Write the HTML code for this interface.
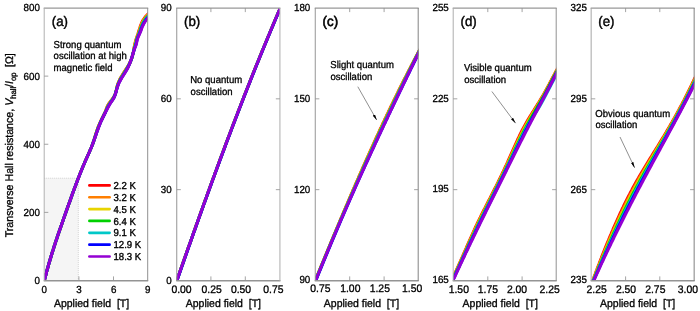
<!DOCTYPE html>
<html lang="en">
<head>
<meta charset="utf-8">
<title>Transverse Hall resistance vs applied field</title>
<style>
html,body{margin:0;padding:0;background:#fff;}
body{width:700px;height:311px;overflow:hidden;}
svg{display:block;}
</style>
</head>
<body>
<svg width="700" height="311" viewBox="0 0 700 311" font-family='"Liberation Sans", Arial, Helvetica, sans-serif' fill="#000" text-rendering="geometricPrecision">
<rect width="700" height="311" fill="#fff"/>
<defs>
<clipPath id="cpa"><rect x="44.2" y="8.0" width="103.50" height="272.5"/></clipPath>
<clipPath id="cpb"><rect x="176.75" y="8.0" width="103.18" height="272.5"/></clipPath>
<clipPath id="cpc"><rect x="315.25" y="8.0" width="102.95" height="272.5"/></clipPath>
<clipPath id="cpd"><rect x="453.2" y="8.0" width="103.00" height="272.5"/></clipPath>
<clipPath id="cpe"><rect x="591.15" y="8.0" width="103.00" height="272.5"/></clipPath>
<marker id="ah" viewBox="0 0 6 2.8" refX="5.8" refY="1.4" markerWidth="6" markerHeight="2.8" markerUnits="userSpaceOnUse" orient="auto"><path d="M0,0.1 L6,1.4 L0,2.7 Z" fill="#000" stroke="none"/></marker>
</defs>
<rect x="44.2" y="178" width="34.20" height="102.5" fill="#f5f5f5"/>
<path d="M44.2,178.2 H78.3 V280.5" fill="none" stroke="#cacaca" stroke-width="0.8" stroke-dasharray="1,1"/>
<g clip-path="url(#cpa)" fill="none" stroke-width="3.0" stroke-linejoin="round" stroke-linecap="round">
<path d="M155.4,4 L154.6,6 L153.4,8 L151.8,10 L149.9,12 L148.0,14 L146.1,16 L144.5,18 L143.1,20 L142.0,22 L141.2,24 L140.4,26 L139.8,28 L139.1,30 L138.5,32 L137.9,34 L137.2,36 L136.5,38 L135.9,40 L135.3,42 L134.8,44 L134.4,46 L134.0,48 L133.7,50 L133.3,52 L132.9,54 L132.4,56 L131.9,58 L131.1,60 L130.2,62 L129.2,64 L128.0,66 L126.7,68 L125.4,70 L124.1,72 L122.9,74 L121.7,76 L120.5,78 L119.5,80 L118.6,82 L117.8,84 L117.2,86 L116.7,88 L116.3,90 L115.8,92 L115.2,94 L114.3,96 L113.1,98 L111.6,100 L110.1,102 L108.6,104 L107.4,106 L106.6,108 L105.9,110 L105.1,112 L104.2,114 L103.3,116 L102.3,118 L101.3,120 L100.3,122 L99.4,124 L98.5,126 L97.8,128 L97.1,130 L96.5,132 L95.8,134 L95.2,136 L94.6,138 L94.0,140 L93.3,142 L92.6,144 L91.9,146 L91.1,148 L90.2,150 L89.3,152 L88.4,154 L87.5,156 L86.6,158 L85.7,160 L84.9,162 L84.0,164 L83.2,166 L82.3,168 L81.5,170 L80.7,172 L79.9,174 L79.2,176 L78.4,178 L77.6,180 L76.9,182 L76.1,184 L75.4,186 L74.6,188 L73.9,190 L73.1,192 L72.4,194 L71.7,196 L71.0,198 L70.3,200 L69.6,202 L68.8,204 L68.1,206 L67.4,208 L66.7,210 L66.0,212 L65.3,214 L64.6,216 L63.9,218 L63.2,220 L62.5,222 L61.8,224 L61.1,226 L60.4,228 L59.7,230 L59.0,232 L58.3,234 L57.6,236 L57.0,238 L56.3,240 L55.6,242 L55.0,244 L54.3,246 L53.7,248 L53.1,250 L52.4,252 L51.8,254 L51.2,256 L50.6,258 L50.0,260 L49.4,262 L48.8,264 L48.3,266 L47.7,268 L47.1,270 L46.6,272 L46.1,274 L45.5,276 L45.0,278 L44.5,280 L44.0,282 L43.6,284 L43.1,286" stroke="#ff0000"/>
<path d="M156.7,4 L155.6,6 L154.2,8 L152.4,10 L150.6,12 L148.6,14 L146.7,16 L145.0,18 L143.6,20 L142.5,22 L141.6,24 L140.8,26 L140.1,28 L139.5,30 L138.9,32 L138.2,34 L137.4,36 L136.7,38 L136.1,40 L135.5,42 L135.0,44 L134.6,46 L134.2,48 L133.8,50 L133.4,52 L132.9,54 L132.4,56 L131.8,58 L131.1,60 L130.2,62 L129.2,64 L128.1,66 L126.9,68 L125.6,70 L124.3,72 L123.1,74 L121.9,76 L120.7,78 L119.7,80 L118.7,82 L117.9,84 L117.3,86 L116.8,88 L116.3,90 L115.8,92 L115.2,94 L114.4,96 L113.2,98 L111.8,100 L110.3,102 L108.8,104 L107.6,106 L106.8,108 L106.0,110 L105.2,112 L104.3,114 L103.3,116 L102.3,118 L101.3,120 L100.4,122 L99.5,124 L98.6,126 L97.9,128 L97.2,130 L96.5,132 L95.9,134 L95.3,136 L94.7,138 L94.0,140 L93.4,142 L92.7,144 L91.9,146 L91.1,148 L90.2,150 L89.4,152 L88.4,154 L87.5,156 L86.6,158 L85.7,160 L84.9,162 L84.0,164 L83.2,166 L82.4,168 L81.5,170 L80.7,172 L79.9,174 L79.2,176 L78.4,178 L77.6,180 L76.9,182 L76.1,184 L75.4,186 L74.6,188 L73.9,190 L73.1,192 L72.4,194 L71.7,196 L71.0,198 L70.3,200 L69.6,202 L68.8,204 L68.1,206 L67.4,208 L66.7,210 L66.0,212 L65.3,214 L64.6,216 L63.9,218 L63.2,220 L62.5,222 L61.8,224 L61.1,226 L60.4,228 L59.7,230 L59.0,232 L58.3,234 L57.6,236 L57.0,238 L56.3,240 L55.6,242 L55.0,244 L54.3,246 L53.7,248 L53.1,250 L52.4,252 L51.8,254 L51.2,256 L50.6,258 L50.0,260 L49.4,262 L48.8,264 L48.3,266 L47.7,268 L47.1,270 L46.6,272 L46.1,274 L45.5,276 L45.0,278 L44.5,280 L44.0,282 L43.6,284 L43.1,286" stroke="#ff7f00"/>
<path d="M157.9,4 L156.6,6 L155.0,8 L153.1,10 L151.2,12 L149.2,14 L147.3,16 L145.6,18 L144.2,20 L143.0,22 L142.0,24 L141.2,26 L140.5,28 L139.8,30 L139.2,32 L138.4,34 L137.7,36 L136.9,38 L136.3,40 L135.8,42 L135.3,44 L134.8,46 L134.3,48 L133.8,50 L133.4,52 L132.9,54 L132.4,56 L131.8,58 L131.1,60 L130.3,62 L129.3,64 L128.2,66 L127.1,68 L125.8,70 L124.6,72 L123.3,74 L122.1,76 L120.9,78 L119.9,80 L118.9,82 L118.1,84 L117.4,86 L116.8,88 L116.4,90 L115.9,92 L115.3,94 L114.4,96 L113.3,98 L112.0,100 L110.5,102 L109.1,104 L107.9,106 L106.9,108 L106.1,110 L105.3,112 L104.4,114 L103.4,116 L102.4,118 L101.4,120 L100.5,122 L99.6,124 L98.8,126 L98.0,128 L97.3,130 L96.6,132 L96.0,134 L95.3,136 L94.7,138 L94.1,140 L93.4,142 L92.7,144 L91.9,146 L91.1,148 L90.2,150 L89.4,152 L88.5,154 L87.6,156 L86.7,158 L85.8,160 L84.9,162 L84.0,164 L83.2,166 L82.4,168 L81.5,170 L80.7,172 L79.9,174 L79.2,176 L78.4,178 L77.6,180 L76.9,182 L76.1,184 L75.4,186 L74.6,188 L73.9,190 L73.1,192 L72.4,194 L71.7,196 L71.0,198 L70.3,200 L69.6,202 L68.8,204 L68.1,206 L67.4,208 L66.7,210 L66.0,212 L65.3,214 L64.6,216 L63.9,218 L63.2,220 L62.5,222 L61.8,224 L61.1,226 L60.4,228 L59.7,230 L59.0,232 L58.3,234 L57.6,236 L57.0,238 L56.3,240 L55.6,242 L55.0,244 L54.3,246 L53.7,248 L53.1,250 L52.4,252 L51.8,254 L51.2,256 L50.6,258 L50.0,260 L49.4,262 L48.8,264 L48.3,266 L47.7,268 L47.1,270 L46.6,272 L46.1,274 L45.5,276 L45.0,278 L44.5,280 L44.0,282 L43.6,284 L43.1,286" stroke="#e8d400"/>
<path d="M159.2,4 L157.6,6 L155.8,8 L153.8,10 L151.8,12 L149.8,14 L147.9,16 L146.2,18 L144.7,20 L143.5,22 L142.4,24 L141.6,26 L140.8,28 L140.2,30 L139.5,32 L138.7,34 L137.9,36 L137.1,38 L136.5,40 L136.1,42 L135.6,44 L135.0,46 L134.5,48 L133.9,50 L133.4,52 L132.9,54 L132.4,56 L131.8,58 L131.1,60 L130.3,62 L129.4,64 L128.3,66 L127.2,68 L126.0,70 L124.8,72 L123.6,74 L122.3,76 L121.1,78 L120.0,80 L119.0,82 L118.2,84 L117.5,86 L116.9,88 L116.4,90 L115.9,92 L115.3,94 L114.5,96 L113.5,98 L112.2,100 L110.7,102 L109.3,104 L108.1,106 L107.1,108 L106.3,110 L105.4,112 L104.4,114 L103.4,116 L102.5,118 L101.5,120 L100.6,122 L99.7,124 L98.9,126 L98.1,128 L97.4,130 L96.7,132 L96.0,134 L95.4,136 L94.7,138 L94.1,140 L93.4,142 L92.7,144 L91.9,146 L91.1,148 L90.2,150 L89.4,152 L88.5,154 L87.6,156 L86.7,158 L85.8,160 L84.9,162 L84.1,164 L83.2,166 L82.4,168 L81.6,170 L80.7,172 L79.9,174 L79.2,176 L78.4,178 L77.6,180 L76.9,182 L76.1,184 L75.4,186 L74.6,188 L73.9,190 L73.1,192 L72.4,194 L71.7,196 L71.0,198 L70.3,200 L69.6,202 L68.8,204 L68.1,206 L67.4,208 L66.7,210 L66.0,212 L65.3,214 L64.6,216 L63.9,218 L63.2,220 L62.5,222 L61.8,224 L61.1,226 L60.4,228 L59.7,230 L59.0,232 L58.3,234 L57.6,236 L57.0,238 L56.3,240 L55.6,242 L55.0,244 L54.3,246 L53.7,248 L53.1,250 L52.4,252 L51.8,254 L51.2,256 L50.6,258 L50.0,260 L49.4,262 L48.8,264 L48.3,266 L47.7,268 L47.1,270 L46.6,272 L46.1,274 L45.5,276 L45.0,278 L44.5,280 L44.0,282 L43.6,284 L43.1,286" stroke="#00d000"/>
<path d="M160.5,4 L158.6,6 L156.6,8 L154.5,10 L152.4,12 L150.4,14 L148.5,16 L146.7,18 L145.2,20 L143.9,22 L142.8,24 L141.9,26 L141.2,28 L140.5,30 L139.8,32 L139.0,34 L138.2,36 L137.4,38 L136.7,40 L136.3,42 L135.9,44 L135.3,46 L134.6,48 L134.0,50 L133.4,52 L132.9,54 L132.4,56 L131.8,58 L131.1,60 L130.3,62 L129.4,64 L128.5,66 L127.4,68 L126.3,70 L125.0,72 L123.8,74 L122.5,76 L121.3,78 L120.2,80 L119.2,82 L118.3,84 L117.6,86 L117.0,88 L116.5,90 L115.9,92 L115.3,94 L114.6,96 L113.6,98 L112.4,100 L110.9,102 L109.5,104 L108.3,106 L107.3,108 L106.4,110 L105.5,112 L104.5,114 L103.5,116 L102.5,118 L101.6,120 L100.6,122 L99.8,124 L99.0,126 L98.2,128 L97.5,130 L96.8,132 L96.1,134 L95.4,136 L94.8,138 L94.1,140 L93.4,142 L92.7,144 L91.9,146 L91.1,148 L90.2,150 L89.4,152 L88.5,154 L87.6,156 L86.7,158 L85.8,160 L84.9,162 L84.1,164 L83.2,166 L82.4,168 L81.6,170 L80.8,172 L80.0,174 L79.2,176 L78.4,178 L77.6,180 L76.9,182 L76.1,184 L75.4,186 L74.6,188 L73.9,190 L73.1,192 L72.4,194 L71.7,196 L71.0,198 L70.3,200 L69.6,202 L68.8,204 L68.1,206 L67.4,208 L66.7,210 L66.0,212 L65.3,214 L64.6,216 L63.9,218 L63.2,220 L62.5,222 L61.8,224 L61.1,226 L60.4,228 L59.7,230 L59.0,232 L58.3,234 L57.6,236 L57.0,238 L56.3,240 L55.6,242 L55.0,244 L54.3,246 L53.7,248 L53.1,250 L52.4,252 L51.8,254 L51.2,256 L50.6,258 L50.0,260 L49.4,262 L48.8,264 L48.3,266 L47.7,268 L47.1,270 L46.6,272 L46.1,274 L45.5,276 L45.0,278 L44.5,280 L44.0,282 L43.6,284 L43.1,286" stroke="#00c8c8"/>
<path d="M161.8,4 L159.6,6 L157.4,8 L155.2,10 L153.0,12 L151.0,14 L149.1,16 L147.3,18 L145.8,20 L144.4,22 L143.3,24 L142.3,26 L141.5,28 L140.9,30 L140.1,32 L139.3,34 L138.4,36 L137.6,38 L137.0,40 L136.6,42 L136.1,44 L135.5,46 L134.7,48 L134.1,50 L133.5,52 L132.9,54 L132.4,56 L131.7,58 L131.1,60 L130.3,62 L129.5,64 L128.6,66 L127.6,68 L126.5,70 L125.3,72 L124.0,74 L122.8,76 L121.5,78 L120.4,80 L119.3,82 L118.4,84 L117.7,86 L117.1,88 L116.5,90 L116.0,92 L115.4,94 L114.7,96 L113.7,98 L112.5,100 L111.1,102 L109.8,104 L108.6,106 L107.5,108 L106.5,110 L105.6,112 L104.6,114 L103.6,116 L102.6,118 L101.6,120 L100.7,122 L99.9,124 L99.1,126 L98.3,128 L97.6,130 L96.9,132 L96.2,134 L95.5,136 L94.8,138 L94.1,140 L93.4,142 L92.7,144 L91.9,146 L91.1,148 L90.2,150 L89.4,152 L88.5,154 L87.6,156 L86.7,158 L85.8,160 L84.9,162 L84.1,164 L83.2,166 L82.4,168 L81.6,170 L80.8,172 L80.0,174 L79.2,176 L78.4,178 L77.6,180 L76.9,182 L76.1,184 L75.4,186 L74.6,188 L73.9,190 L73.1,192 L72.4,194 L71.7,196 L71.0,198 L70.3,200 L69.6,202 L68.8,204 L68.1,206 L67.4,208 L66.7,210 L66.0,212 L65.3,214 L64.6,216 L63.9,218 L63.2,220 L62.5,222 L61.8,224 L61.1,226 L60.4,228 L59.7,230 L59.0,232 L58.3,234 L57.6,236 L57.0,238 L56.3,240 L55.6,242 L55.0,244 L54.3,246 L53.7,248 L53.1,250 L52.4,252 L51.8,254 L51.2,256 L50.6,258 L50.0,260 L49.4,262 L48.8,264 L48.3,266 L47.7,268 L47.1,270 L46.6,272 L46.1,274 L45.5,276 L45.0,278 L44.5,280 L44.0,282 L43.6,284 L43.1,286" stroke="#0000ff"/>
<path d="M163.1,4 L160.6,6 L158.2,8 L155.9,10 L153.6,12 L151.6,14 L149.6,16 L147.9,18 L146.3,20 L144.9,22 L143.7,24 L142.7,26 L141.9,28 L141.2,30 L140.5,32 L139.6,34 L138.6,36 L137.8,38 L137.2,40 L136.8,42 L136.4,44 L135.7,46 L134.9,48 L134.1,50 L133.5,52 L132.9,54 L132.3,56 L131.7,58 L131.0,60 L130.3,62 L129.6,64 L128.7,66 L127.8,68 L126.7,70 L125.5,72 L124.3,74 L123.0,76 L121.7,78 L120.6,80 L119.5,82 L118.5,84 L117.8,86 L117.1,88 L116.6,90 L116.0,92 L115.4,94 L114.7,96 L113.9,98 L112.7,100 L111.3,102 L110.0,104 L108.8,106 L107.7,108 L106.7,110 L105.6,112 L104.6,114 L103.6,116 L102.7,118 L101.7,120 L100.8,122 L100.0,124 L99.2,126 L98.4,128 L97.7,130 L96.9,132 L96.2,134 L95.6,136 L94.9,138 L94.2,140 L93.4,142 L92.7,144 L91.9,146 L91.1,148 L90.2,150 L89.4,152 L88.5,154 L87.6,156 L86.7,158 L85.8,160 L85.0,162 L84.1,164 L83.2,166 L82.4,168 L81.6,170 L80.8,172 L80.0,174 L79.2,176 L78.4,178 L77.6,180 L76.9,182 L76.1,184 L75.4,186 L74.6,188 L73.9,190 L73.1,192 L72.4,194 L71.7,196 L71.0,198 L70.3,200 L69.6,202 L68.8,204 L68.1,206 L67.4,208 L66.7,210 L66.0,212 L65.3,214 L64.6,216 L63.9,218 L63.2,220 L62.5,222 L61.8,224 L61.1,226 L60.4,228 L59.7,230 L59.0,232 L58.3,234 L57.6,236 L57.0,238 L56.3,240 L55.6,242 L55.0,244 L54.3,246 L53.7,248 L53.1,250 L52.4,252 L51.8,254 L51.2,256 L50.6,258 L50.0,260 L49.4,262 L48.8,264 L48.3,266 L47.7,268 L47.1,270 L46.6,272 L46.1,274 L45.5,276 L45.0,278 L44.5,280 L44.0,282 L43.6,284 L43.1,286" stroke="#9400d3"/>
</g>
<g clip-path="url(#cpb)" fill="none" stroke-width="3.0" stroke-linejoin="round" stroke-linecap="round">
<path d="M282.0,4 L281.1,6 L280.3,8 L279.4,10 L278.5,12 L277.7,14 L276.8,16 L276.0,18 L275.1,20 L274.3,22 L273.4,24 L272.6,26 L271.8,28 L270.9,30 L270.1,32 L269.3,34 L268.4,36 L267.6,38 L266.8,40 L265.9,42 L265.1,44 L264.3,46 L263.5,48 L262.6,50 L261.8,52 L261.0,54 L260.2,56 L259.4,58 L258.6,60 L257.8,62 L256.9,64 L256.1,66 L255.3,68 L254.5,70 L253.7,72 L252.9,74 L252.1,76 L251.3,78 L250.5,80 L249.8,82 L249.0,84 L248.2,86 L247.4,88 L246.6,90 L245.8,92 L245.0,94 L244.2,96 L243.5,98 L242.7,100 L241.9,102 L241.1,104 L240.4,106 L239.6,108 L238.8,110 L238.0,112 L237.3,114 L236.5,116 L235.7,118 L235.0,120 L234.2,122 L233.4,124 L232.7,126 L231.9,128 L231.2,130 L230.4,132 L229.7,134 L228.9,136 L228.1,138 L227.4,140 L226.6,142 L225.9,144 L225.1,146 L224.4,148 L223.7,150 L222.9,152 L222.2,154 L221.4,156 L220.7,158 L219.9,160 L219.2,162 L218.5,164 L217.7,166 L217.0,168 L216.3,170 L215.5,172 L214.8,174 L214.1,176 L213.3,178 L212.6,180 L211.9,182 L211.1,184 L210.4,186 L209.7,188 L209.0,190 L208.2,192 L207.5,194 L206.8,196 L206.1,198 L205.3,200 L204.6,202 L203.9,204 L203.2,206 L202.5,208 L201.7,210 L201.0,212 L200.3,214 L199.6,216 L198.9,218 L198.2,220 L197.5,222 L196.7,224 L196.0,226 L195.3,228 L194.6,230 L193.9,232 L193.2,234 L192.5,236 L191.8,238 L191.1,240 L190.4,242 L189.7,244 L188.9,246 L188.2,248 L187.5,250 L186.8,252 L186.1,254 L185.4,256 L184.7,258 L184.0,260 L183.3,262 L182.6,264 L181.9,266 L181.2,268 L180.5,270 L179.8,272 L179.1,274 L178.4,276 L177.7,278 L177.0,280 L176.3,282 L175.6,284 L174.9,286" stroke="#ff0000"/>
<path d="M282.0,4 L281.1,6 L280.3,8 L279.4,10 L278.5,12 L277.7,14 L276.8,16 L276.0,18 L275.1,20 L274.3,22 L273.4,24 L272.6,26 L271.8,28 L270.9,30 L270.1,32 L269.3,34 L268.4,36 L267.6,38 L266.8,40 L265.9,42 L265.1,44 L264.3,46 L263.5,48 L262.6,50 L261.8,52 L261.0,54 L260.2,56 L259.4,58 L258.6,60 L257.8,62 L256.9,64 L256.1,66 L255.3,68 L254.5,70 L253.7,72 L252.9,74 L252.1,76 L251.3,78 L250.5,80 L249.8,82 L249.0,84 L248.2,86 L247.4,88 L246.6,90 L245.8,92 L245.0,94 L244.2,96 L243.5,98 L242.7,100 L241.9,102 L241.1,104 L240.4,106 L239.6,108 L238.8,110 L238.0,112 L237.3,114 L236.5,116 L235.7,118 L235.0,120 L234.2,122 L233.4,124 L232.7,126 L231.9,128 L231.2,130 L230.4,132 L229.7,134 L228.9,136 L228.1,138 L227.4,140 L226.6,142 L225.9,144 L225.1,146 L224.4,148 L223.7,150 L222.9,152 L222.2,154 L221.4,156 L220.7,158 L219.9,160 L219.2,162 L218.5,164 L217.7,166 L217.0,168 L216.3,170 L215.5,172 L214.8,174 L214.1,176 L213.3,178 L212.6,180 L211.9,182 L211.1,184 L210.4,186 L209.7,188 L209.0,190 L208.2,192 L207.5,194 L206.8,196 L206.1,198 L205.3,200 L204.6,202 L203.9,204 L203.2,206 L202.5,208 L201.7,210 L201.0,212 L200.3,214 L199.6,216 L198.9,218 L198.2,220 L197.5,222 L196.7,224 L196.0,226 L195.3,228 L194.6,230 L193.9,232 L193.2,234 L192.5,236 L191.8,238 L191.1,240 L190.4,242 L189.7,244 L188.9,246 L188.2,248 L187.5,250 L186.8,252 L186.1,254 L185.4,256 L184.7,258 L184.0,260 L183.3,262 L182.6,264 L181.9,266 L181.2,268 L180.5,270 L179.8,272 L179.1,274 L178.4,276 L177.7,278 L177.0,280 L176.3,282 L175.6,284 L174.9,286" stroke="#ff7f00"/>
<path d="M282.0,4 L281.1,6 L280.3,8 L279.4,10 L278.5,12 L277.7,14 L276.8,16 L276.0,18 L275.1,20 L274.3,22 L273.4,24 L272.6,26 L271.8,28 L270.9,30 L270.1,32 L269.3,34 L268.4,36 L267.6,38 L266.8,40 L265.9,42 L265.1,44 L264.3,46 L263.5,48 L262.6,50 L261.8,52 L261.0,54 L260.2,56 L259.4,58 L258.6,60 L257.8,62 L256.9,64 L256.1,66 L255.3,68 L254.5,70 L253.7,72 L252.9,74 L252.1,76 L251.3,78 L250.5,80 L249.8,82 L249.0,84 L248.2,86 L247.4,88 L246.6,90 L245.8,92 L245.0,94 L244.2,96 L243.5,98 L242.7,100 L241.9,102 L241.1,104 L240.4,106 L239.6,108 L238.8,110 L238.0,112 L237.3,114 L236.5,116 L235.7,118 L235.0,120 L234.2,122 L233.4,124 L232.7,126 L231.9,128 L231.2,130 L230.4,132 L229.7,134 L228.9,136 L228.1,138 L227.4,140 L226.6,142 L225.9,144 L225.1,146 L224.4,148 L223.7,150 L222.9,152 L222.2,154 L221.4,156 L220.7,158 L219.9,160 L219.2,162 L218.5,164 L217.7,166 L217.0,168 L216.3,170 L215.5,172 L214.8,174 L214.1,176 L213.3,178 L212.6,180 L211.9,182 L211.1,184 L210.4,186 L209.7,188 L209.0,190 L208.2,192 L207.5,194 L206.8,196 L206.1,198 L205.3,200 L204.6,202 L203.9,204 L203.2,206 L202.5,208 L201.7,210 L201.0,212 L200.3,214 L199.6,216 L198.9,218 L198.2,220 L197.5,222 L196.7,224 L196.0,226 L195.3,228 L194.6,230 L193.9,232 L193.2,234 L192.5,236 L191.8,238 L191.1,240 L190.4,242 L189.7,244 L188.9,246 L188.2,248 L187.5,250 L186.8,252 L186.1,254 L185.4,256 L184.7,258 L184.0,260 L183.3,262 L182.6,264 L181.9,266 L181.2,268 L180.5,270 L179.8,272 L179.1,274 L178.4,276 L177.7,278 L177.0,280 L176.3,282 L175.6,284 L174.9,286" stroke="#e8d400"/>
<path d="M282.0,4 L281.1,6 L280.3,8 L279.4,10 L278.5,12 L277.7,14 L276.8,16 L276.0,18 L275.1,20 L274.3,22 L273.4,24 L272.6,26 L271.8,28 L270.9,30 L270.1,32 L269.3,34 L268.4,36 L267.6,38 L266.8,40 L265.9,42 L265.1,44 L264.3,46 L263.5,48 L262.6,50 L261.8,52 L261.0,54 L260.2,56 L259.4,58 L258.6,60 L257.8,62 L256.9,64 L256.1,66 L255.3,68 L254.5,70 L253.7,72 L252.9,74 L252.1,76 L251.3,78 L250.5,80 L249.8,82 L249.0,84 L248.2,86 L247.4,88 L246.6,90 L245.8,92 L245.0,94 L244.2,96 L243.5,98 L242.7,100 L241.9,102 L241.1,104 L240.4,106 L239.6,108 L238.8,110 L238.0,112 L237.3,114 L236.5,116 L235.7,118 L235.0,120 L234.2,122 L233.4,124 L232.7,126 L231.9,128 L231.2,130 L230.4,132 L229.7,134 L228.9,136 L228.1,138 L227.4,140 L226.6,142 L225.9,144 L225.1,146 L224.4,148 L223.7,150 L222.9,152 L222.2,154 L221.4,156 L220.7,158 L219.9,160 L219.2,162 L218.5,164 L217.7,166 L217.0,168 L216.3,170 L215.5,172 L214.8,174 L214.1,176 L213.3,178 L212.6,180 L211.9,182 L211.1,184 L210.4,186 L209.7,188 L209.0,190 L208.2,192 L207.5,194 L206.8,196 L206.1,198 L205.3,200 L204.6,202 L203.9,204 L203.2,206 L202.5,208 L201.7,210 L201.0,212 L200.3,214 L199.6,216 L198.9,218 L198.2,220 L197.5,222 L196.7,224 L196.0,226 L195.3,228 L194.6,230 L193.9,232 L193.2,234 L192.5,236 L191.8,238 L191.1,240 L190.4,242 L189.7,244 L188.9,246 L188.2,248 L187.5,250 L186.8,252 L186.1,254 L185.4,256 L184.7,258 L184.0,260 L183.3,262 L182.6,264 L181.9,266 L181.2,268 L180.5,270 L179.8,272 L179.1,274 L178.4,276 L177.7,278 L177.0,280 L176.3,282 L175.6,284 L174.9,286" stroke="#00d000"/>
<path d="M282.0,4 L281.2,6 L280.3,8 L279.5,10 L278.6,12 L277.7,14 L276.9,16 L276.0,18 L275.2,20 L274.3,22 L273.5,24 L272.7,26 L271.8,28 L271.0,30 L270.1,32 L269.3,34 L268.5,36 L267.6,38 L266.8,40 L266.0,42 L265.2,44 L264.3,46 L263.5,48 L262.7,50 L261.9,52 L261.1,54 L260.2,56 L259.4,58 L258.6,60 L257.8,62 L257.0,64 L256.2,66 L255.4,68 L254.6,70 L253.8,72 L253.0,74 L252.2,76 L251.4,78 L250.6,80 L249.8,82 L249.0,84 L248.2,86 L247.4,88 L246.6,90 L245.9,92 L245.1,94 L244.3,96 L243.5,98 L242.7,100 L242.0,102 L241.2,104 L240.4,106 L239.6,108 L238.9,110 L238.1,112 L237.3,114 L236.6,116 L235.8,118 L235.0,120 L234.3,122 L233.5,124 L232.7,126 L232.0,128 L231.2,130 L230.5,132 L229.7,134 L229.0,136 L228.2,138 L227.4,140 L226.7,142 L225.9,144 L225.2,146 L224.5,148 L223.7,150 L223.0,152 L222.2,154 L221.5,156 L220.7,158 L220.0,160 L219.3,162 L218.5,164 L217.8,166 L217.0,168 L216.3,170 L215.6,172 L214.8,174 L214.1,176 L213.4,178 L212.6,180 L211.9,182 L211.2,184 L210.5,186 L209.7,188 L209.0,190 L208.3,192 L207.6,194 L206.8,196 L206.1,198 L205.4,200 L204.7,202 L203.9,204 L203.2,206 L202.5,208 L201.8,210 L201.1,212 L200.4,214 L199.6,216 L198.9,218 L198.2,220 L197.5,222 L196.8,224 L196.1,226 L195.4,228 L194.7,230 L193.9,232 L193.2,234 L192.5,236 L191.8,238 L191.1,240 L190.4,242 L189.7,244 L189.0,246 L188.3,248 L187.6,250 L186.9,252 L186.2,254 L185.5,256 L184.8,258 L184.1,260 L183.4,262 L182.7,264 L182.0,266 L181.3,268 L180.6,270 L179.9,272 L179.2,274 L178.5,276 L177.8,278 L177.1,280 L176.4,282 L175.7,284 L175.0,286" stroke="#00c8c8"/>
<path d="M282.1,4 L281.3,6 L280.4,8 L279.6,10 L278.7,12 L277.8,14 L277.0,16 L276.1,18 L275.3,20 L274.4,22 L273.6,24 L272.8,26 L271.9,28 L271.1,30 L270.2,32 L269.4,34 L268.6,36 L267.7,38 L266.9,40 L266.1,42 L265.3,44 L264.4,46 L263.6,48 L262.8,50 L262.0,52 L261.2,54 L260.3,56 L259.5,58 L258.7,60 L257.9,62 L257.1,64 L256.3,66 L255.5,68 L254.7,70 L253.9,72 L253.1,74 L252.3,76 L251.5,78 L250.7,80 L249.9,82 L249.1,84 L248.3,86 L247.5,88 L246.7,90 L246.0,92 L245.2,94 L244.4,96 L243.6,98 L242.8,100 L242.1,102 L241.3,104 L240.5,106 L239.7,108 L239.0,110 L238.2,112 L237.4,114 L236.7,116 L235.9,118 L235.1,120 L234.4,122 L233.6,124 L232.8,126 L232.1,128 L231.3,130 L230.6,132 L229.8,134 L229.1,136 L228.3,138 L227.5,140 L226.8,142 L226.0,144 L225.3,146 L224.6,148 L223.8,150 L223.1,152 L222.3,154 L221.6,156 L220.8,158 L220.1,160 L219.4,162 L218.6,164 L217.9,166 L217.1,168 L216.4,170 L215.7,172 L214.9,174 L214.2,176 L213.5,178 L212.7,180 L212.0,182 L211.3,184 L210.6,186 L209.8,188 L209.1,190 L208.4,192 L207.7,194 L206.9,196 L206.2,198 L205.5,200 L204.8,202 L204.0,204 L203.3,206 L202.6,208 L201.9,210 L201.2,212 L200.5,214 L199.7,216 L199.0,218 L198.3,220 L197.6,222 L196.9,224 L196.2,226 L195.5,228 L194.8,230 L194.0,232 L193.3,234 L192.6,236 L191.9,238 L191.2,240 L190.5,242 L189.8,244 L189.1,246 L188.4,248 L187.7,250 L187.0,252 L186.3,254 L185.6,256 L184.9,258 L184.2,260 L183.5,262 L182.8,264 L182.1,266 L181.4,268 L180.7,270 L180.0,272 L179.3,274 L178.6,276 L177.9,278 L177.2,280 L176.5,282 L175.8,284 L175.1,286" stroke="#0000ff"/>
<path d="M282.0,4 L281.1,6 L280.3,8 L279.4,10 L278.5,12 L277.7,14 L276.8,16 L276.0,18 L275.1,20 L274.3,22 L273.4,24 L272.6,26 L271.8,28 L270.9,30 L270.1,32 L269.3,34 L268.4,36 L267.6,38 L266.8,40 L265.9,42 L265.1,44 L264.3,46 L263.5,48 L262.6,50 L261.8,52 L261.0,54 L260.2,56 L259.4,58 L258.6,60 L257.8,62 L256.9,64 L256.1,66 L255.3,68 L254.5,70 L253.7,72 L252.9,74 L252.1,76 L251.3,78 L250.5,80 L249.8,82 L249.0,84 L248.2,86 L247.4,88 L246.6,90 L245.8,92 L245.0,94 L244.2,96 L243.5,98 L242.7,100 L241.9,102 L241.1,104 L240.4,106 L239.6,108 L238.8,110 L238.0,112 L237.3,114 L236.5,116 L235.7,118 L235.0,120 L234.2,122 L233.4,124 L232.7,126 L231.9,128 L231.2,130 L230.4,132 L229.7,134 L228.9,136 L228.1,138 L227.4,140 L226.6,142 L225.9,144 L225.1,146 L224.4,148 L223.7,150 L222.9,152 L222.2,154 L221.4,156 L220.7,158 L219.9,160 L219.2,162 L218.5,164 L217.7,166 L217.0,168 L216.3,170 L215.5,172 L214.8,174 L214.1,176 L213.3,178 L212.6,180 L211.9,182 L211.1,184 L210.4,186 L209.7,188 L209.0,190 L208.2,192 L207.5,194 L206.8,196 L206.1,198 L205.3,200 L204.6,202 L203.9,204 L203.2,206 L202.5,208 L201.7,210 L201.0,212 L200.3,214 L199.6,216 L198.9,218 L198.2,220 L197.5,222 L196.7,224 L196.0,226 L195.3,228 L194.6,230 L193.9,232 L193.2,234 L192.5,236 L191.8,238 L191.1,240 L190.4,242 L189.7,244 L188.9,246 L188.2,248 L187.5,250 L186.8,252 L186.1,254 L185.4,256 L184.7,258 L184.0,260 L183.3,262 L182.6,264 L181.9,266 L181.2,268 L180.5,270 L179.8,272 L179.1,274 L178.4,276 L177.7,278 L177.0,280 L176.3,282 L175.6,284 L174.9,286" stroke="#9400d3"/>
</g>
<g clip-path="url(#cpc)" fill="none" stroke-width="3.0" stroke-linejoin="round" stroke-linecap="round">
<path d="M445.3,4 L444.2,6 L443.0,8 L441.8,10 L440.7,12 L439.5,14 L438.4,16 L437.2,18 L436.1,20 L435.0,22 L433.8,24 L432.7,26 L431.6,28 L430.5,30 L429.4,32 L428.3,34 L427.2,36 L426.1,38 L425.0,40 L423.9,42 L422.8,44 L421.7,46 L420.7,48 L419.6,50 L418.5,52 L417.5,54 L416.4,56 L415.4,58 L414.3,60 L413.3,62 L412.2,64 L411.2,66 L410.2,68 L409.1,70 L408.1,72 L407.1,74 L406.1,76 L405.0,78 L404.0,80 L403.0,82 L402.0,84 L401.0,86 L400.0,88 L399.0,90 L398.0,92 L397.1,94 L396.1,96 L395.1,98 L394.1,100 L393.1,102 L392.2,104 L391.2,106 L390.2,108 L389.3,110 L388.3,112 L387.4,114 L386.4,116 L385.5,118 L384.5,120 L383.6,122 L382.6,124 L381.7,126 L380.8,128 L379.8,130 L378.9,132 L378.0,134 L377.1,136 L376.1,138 L375.2,140 L374.3,142 L373.4,144 L372.5,146 L371.6,148 L370.7,150 L369.8,152 L368.9,154 L368.0,156 L367.1,158 L366.2,160 L365.3,162 L364.4,164 L363.5,166 L362.6,168 L361.8,170 L360.9,172 L360.0,174 L359.1,176 L358.3,178 L357.4,180 L356.5,182 L355.6,184 L354.8,186 L353.9,188 L353.0,190 L352.2,192 L351.3,194 L350.5,196 L349.6,198 L348.8,200 L347.9,202 L347.1,204 L346.2,206 L345.4,208 L344.5,210 L343.7,212 L342.8,214 L342.0,216 L341.1,218 L340.3,220 L339.5,222 L338.6,224 L337.8,226 L336.9,228 L336.1,230 L335.3,232 L334.4,234 L333.6,236 L332.8,238 L331.9,240 L331.1,242 L330.3,244 L329.5,246 L328.6,248 L327.8,250 L327.0,252 L326.2,254 L325.3,256 L324.5,258 L323.7,260 L322.9,262 L322.0,264 L321.2,266 L320.4,268 L319.6,270 L318.8,272 L317.9,274 L317.1,276 L316.3,278 L315.5,280 L314.7,282 L313.8,284 L313.0,286" stroke="#ff0000"/>
<path d="M444.9,4 L443.7,6 L442.6,8 L441.5,10 L440.4,12 L439.2,14 L438.1,16 L437.0,18 L435.9,20 L434.8,22 L433.7,24 L432.6,26 L431.5,28 L430.4,30 L429.3,32 L428.2,34 L427.1,36 L426.1,38 L425.0,40 L423.9,42 L422.8,44 L421.8,46 L420.7,48 L419.7,50 L418.6,52 L417.6,54 L416.5,56 L415.5,58 L414.4,60 L413.4,62 L412.4,64 L411.4,66 L410.3,68 L409.3,70 L408.3,72 L407.3,74 L406.3,76 L405.3,78 L404.3,80 L403.3,82 L402.3,84 L401.3,86 L400.3,88 L399.3,90 L398.3,92 L397.3,94 L396.3,96 L395.4,98 L394.4,100 L393.4,102 L392.5,104 L391.5,106 L390.5,108 L389.6,110 L388.6,112 L387.7,114 L386.7,116 L385.8,118 L384.8,120 L383.9,122 L382.9,124 L382.0,126 L381.1,128 L380.1,130 L379.2,132 L378.3,134 L377.4,136 L376.4,138 L375.5,140 L374.6,142 L373.7,144 L372.8,146 L371.9,148 L371.0,150 L370.0,152 L369.1,154 L368.2,156 L367.3,158 L366.4,160 L365.6,162 L364.7,164 L363.8,166 L362.9,168 L362.0,170 L361.1,172 L360.2,174 L359.3,176 L358.5,178 L357.6,180 L356.7,182 L355.8,184 L355.0,186 L354.1,188 L353.2,190 L352.4,192 L351.5,194 L350.6,196 L349.8,198 L348.9,200 L348.1,202 L347.2,204 L346.3,206 L345.5,208 L344.6,210 L343.8,212 L342.9,214 L342.1,216 L341.2,218 L340.4,220 L339.6,222 L338.7,224 L337.9,226 L337.0,228 L336.2,230 L335.4,232 L334.5,234 L333.7,236 L332.9,238 L332.0,240 L331.2,242 L330.4,244 L329.5,246 L328.7,248 L327.9,250 L327.0,252 L326.2,254 L325.4,256 L324.6,258 L323.7,260 L322.9,262 L322.1,264 L321.3,266 L320.5,268 L319.6,270 L318.8,272 L318.0,274 L317.2,276 L316.4,278 L315.5,280 L314.7,282 L313.9,284 L313.1,286" stroke="#ff7f00"/>
<path d="M444.5,4 L443.3,6 L442.2,8 L441.1,10 L440.0,12 L438.9,14 L437.8,16 L436.7,18 L435.7,20 L434.6,22 L433.5,24 L432.4,26 L431.3,28 L430.3,30 L429.2,32 L428.1,34 L427.1,36 L426.0,38 L425.0,40 L423.9,42 L422.9,44 L421.8,46 L420.8,48 L419.7,50 L418.7,52 L417.7,54 L416.6,56 L415.6,58 L414.6,60 L413.6,62 L412.5,64 L411.5,66 L410.5,68 L409.5,70 L408.5,72 L407.5,74 L406.5,76 L405.5,78 L404.5,80 L403.5,82 L402.5,84 L401.5,86 L400.5,88 L399.6,90 L398.6,92 L397.6,94 L396.6,96 L395.6,98 L394.7,100 L393.7,102 L392.7,104 L391.8,106 L390.8,108 L389.9,110 L388.9,112 L388.0,114 L387.0,116 L386.1,118 L385.1,120 L384.2,122 L383.2,124 L382.3,126 L381.4,128 L380.4,130 L379.5,132 L378.6,134 L377.6,136 L376.7,138 L375.8,140 L374.9,142 L374.0,144 L373.0,146 L372.1,148 L371.2,150 L370.3,152 L369.4,154 L368.5,156 L367.6,158 L366.7,160 L365.8,162 L364.9,164 L364.0,166 L363.1,168 L362.2,170 L361.3,172 L360.4,174 L359.6,176 L358.7,178 L357.8,180 L356.9,182 L356.0,184 L355.2,186 L354.3,188 L353.4,190 L352.5,192 L351.7,194 L350.8,196 L349.9,198 L349.1,200 L348.2,202 L347.3,204 L346.5,206 L345.6,208 L344.8,210 L343.9,212 L343.1,214 L342.2,216 L341.4,218 L340.5,220 L339.7,222 L338.8,224 L338.0,226 L337.1,228 L336.3,230 L335.4,232 L334.6,234 L333.8,236 L332.9,238 L332.1,240 L331.3,242 L330.4,244 L329.6,246 L328.8,248 L327.9,250 L327.1,252 L326.3,254 L325.4,256 L324.6,258 L323.8,260 L323.0,262 L322.2,264 L321.3,266 L320.5,268 L319.7,270 L318.9,272 L318.1,274 L317.2,276 L316.4,278 L315.6,280 L314.8,282 L314.0,284 L313.2,286" stroke="#e8d400"/>
<path d="M444.0,4 L442.9,6 L441.9,8 L440.8,10 L439.7,12 L438.6,14 L437.6,16 L436.5,18 L435.4,20 L434.4,22 L433.3,24 L432.3,26 L431.2,28 L430.2,30 L429.1,32 L428.1,34 L427.0,36 L426.0,38 L424.9,40 L423.9,42 L422.9,44 L421.9,46 L420.8,48 L419.8,50 L418.8,52 L417.8,54 L416.7,56 L415.7,58 L414.7,60 L413.7,62 L412.7,64 L411.7,66 L410.7,68 L409.7,70 L408.7,72 L407.7,74 L406.7,76 L405.7,78 L404.7,80 L403.7,82 L402.8,84 L401.8,86 L400.8,88 L399.8,90 L398.8,92 L397.9,94 L396.9,96 L395.9,98 L395.0,100 L394.0,102 L393.0,104 L392.1,106 L391.1,108 L390.2,110 L389.2,112 L388.3,114 L387.3,116 L386.4,118 L385.4,120 L384.5,122 L383.5,124 L382.6,126 L381.7,128 L380.7,130 L379.8,132 L378.9,134 L377.9,136 L377.0,138 L376.1,140 L375.2,142 L374.2,144 L373.3,146 L372.4,148 L371.5,150 L370.6,152 L369.7,154 L368.8,156 L367.9,158 L366.9,160 L366.0,162 L365.1,164 L364.2,166 L363.3,168 L362.5,170 L361.6,172 L360.7,174 L359.8,176 L358.9,178 L358.0,180 L357.1,182 L356.2,184 L355.4,186 L354.5,188 L353.6,190 L352.7,192 L351.8,194 L351.0,196 L350.1,198 L349.2,200 L348.4,202 L347.5,204 L346.6,206 L345.8,208 L344.9,210 L344.0,212 L343.2,214 L342.3,216 L341.5,218 L340.6,220 L339.8,222 L338.9,224 L338.1,226 L337.2,228 L336.4,230 L335.5,232 L334.7,234 L333.8,236 L333.0,238 L332.2,240 L331.3,242 L330.5,244 L329.7,246 L328.8,248 L328.0,250 L327.2,252 L326.3,254 L325.5,256 L324.7,258 L323.9,260 L323.0,262 L322.2,264 L321.4,266 L320.6,268 L319.7,270 L318.9,272 L318.1,274 L317.3,276 L316.5,278 L315.7,280 L314.9,282 L314.1,284 L313.2,286" stroke="#00d000"/>
<path d="M443.7,4 L442.6,6 L441.6,8 L440.5,10 L439.5,12 L438.4,14 L437.4,16 L436.4,18 L435.3,20 L434.3,22 L433.2,24 L432.2,26 L431.2,28 L430.1,30 L429.1,32 L428.1,34 L427.1,36 L426.1,38 L425.0,40 L424.0,42 L423.0,44 L422.0,46 L421.0,48 L420.0,50 L419.0,52 L418.0,54 L416.9,56 L415.9,58 L414.9,60 L413.9,62 L413.0,64 L412.0,66 L411.0,68 L410.0,70 L409.0,72 L408.0,74 L407.0,76 L406.0,78 L405.1,80 L404.1,82 L403.1,84 L402.1,86 L401.1,88 L400.2,90 L399.2,92 L398.2,94 L397.3,96 L396.3,98 L395.3,100 L394.4,102 L393.4,104 L392.5,106 L391.5,108 L390.6,110 L389.6,112 L388.7,114 L387.7,116 L386.8,118 L385.8,120 L384.9,122 L383.9,124 L383.0,126 L382.1,128 L381.1,130 L380.2,132 L379.3,134 L378.3,136 L377.4,138 L376.5,140 L375.5,142 L374.6,144 L373.7,146 L372.8,148 L371.9,150 L370.9,152 L370.0,154 L369.1,156 L368.2,158 L367.3,160 L366.4,162 L365.5,164 L364.6,166 L363.7,168 L362.8,170 L361.9,172 L361.0,174 L360.1,176 L359.2,178 L358.3,180 L357.4,182 L356.5,184 L355.6,186 L354.8,188 L353.9,190 L353.0,192 L352.1,194 L351.2,196 L350.4,198 L349.5,200 L348.6,202 L347.7,204 L346.9,206 L346.0,208 L345.1,210 L344.3,212 L343.4,214 L342.5,216 L341.7,218 L340.8,220 L340.0,222 L339.1,224 L338.3,226 L337.4,228 L336.6,230 L335.7,232 L334.9,234 L334.0,236 L333.2,238 L332.3,240 L331.5,242 L330.7,244 L329.8,246 L329.0,248 L328.2,250 L327.3,252 L326.5,254 L325.7,256 L324.8,258 L324.0,260 L323.2,262 L322.4,264 L321.5,266 L320.7,268 L319.9,270 L319.1,272 L318.3,274 L317.5,276 L316.7,278 L315.8,280 L315.0,282 L314.2,284 L313.4,286" stroke="#00c8c8"/>
<path d="M443.4,4 L442.4,6 L441.4,8 L440.4,10 L439.4,12 L438.3,14 L437.3,16 L436.3,18 L435.3,20 L434.3,22 L433.3,24 L432.3,26 L431.2,28 L430.2,30 L429.2,32 L428.2,34 L427.2,36 L426.2,38 L425.2,40 L424.2,42 L423.2,44 L422.2,46 L421.2,48 L420.2,50 L419.2,52 L418.2,54 L417.3,56 L416.3,58 L415.3,60 L414.3,62 L413.3,64 L412.3,66 L411.3,68 L410.4,70 L409.4,72 L408.4,74 L407.4,76 L406.5,78 L405.5,80 L404.5,82 L403.5,84 L402.6,86 L401.6,88 L400.6,90 L399.7,92 L398.7,94 L397.7,96 L396.8,98 L395.8,100 L394.9,102 L393.9,104 L393.0,106 L392.0,108 L391.0,110 L390.1,112 L389.1,114 L388.2,116 L387.3,118 L386.3,120 L385.4,122 L384.4,124 L383.5,126 L382.6,128 L381.6,130 L380.7,132 L379.7,134 L378.8,136 L377.9,138 L377.0,140 L376.0,142 L375.1,144 L374.2,146 L373.3,148 L372.3,150 L371.4,152 L370.5,154 L369.6,156 L368.7,158 L367.8,160 L366.8,162 L365.9,164 L365.0,166 L364.1,168 L363.2,170 L362.3,172 L361.4,174 L360.5,176 L359.6,178 L358.7,180 L357.8,182 L356.9,184 L356.0,186 L355.1,188 L354.3,190 L353.4,192 L352.5,194 L351.6,196 L350.7,198 L349.8,200 L349.0,202 L348.1,204 L347.2,206 L346.3,208 L345.5,210 L344.6,212 L343.7,214 L342.9,216 L342.0,218 L341.1,220 L340.3,222 L339.4,224 L338.6,226 L337.7,228 L336.9,230 L336.0,232 L335.2,234 L334.3,236 L333.5,238 L332.6,240 L331.8,242 L330.9,244 L330.1,246 L329.3,248 L328.4,250 L327.6,252 L326.8,254 L325.9,256 L325.1,258 L324.3,260 L323.4,262 L322.6,264 L321.8,266 L321.0,268 L320.2,270 L319.3,272 L318.5,274 L317.7,276 L316.9,278 L316.1,280 L315.3,282 L314.5,284 L313.7,286" stroke="#0000ff"/>
<path d="M442.7,4 L441.7,6 L440.7,8 L439.7,10 L438.7,12 L437.7,14 L436.7,16 L435.8,18 L434.8,20 L433.8,22 L432.8,24 L431.8,26 L430.8,28 L429.8,30 L428.8,32 L427.9,34 L426.9,36 L425.9,38 L424.9,40 L423.9,42 L422.9,44 L422.0,46 L421.0,48 L420.0,50 L419.0,52 L418.0,54 L417.1,56 L416.1,58 L415.1,60 L414.1,62 L413.2,64 L412.2,66 L411.2,68 L410.2,70 L409.3,72 L408.3,74 L407.3,76 L406.4,78 L405.4,80 L404.4,82 L403.5,84 L402.5,86 L401.6,88 L400.6,90 L399.6,92 L398.7,94 L397.7,96 L396.8,98 L395.8,100 L394.8,102 L393.9,104 L392.9,106 L392.0,108 L391.0,110 L390.1,112 L389.1,114 L388.2,116 L387.3,118 L386.3,120 L385.4,122 L384.4,124 L383.5,126 L382.5,128 L381.6,130 L380.7,132 L379.7,134 L378.8,136 L377.9,138 L376.9,140 L376.0,142 L375.1,144 L374.2,146 L373.2,148 L372.3,150 L371.4,152 L370.5,154 L369.5,156 L368.6,158 L367.7,160 L366.8,162 L365.9,164 L365.0,166 L364.1,168 L363.1,170 L362.2,172 L361.3,174 L360.4,176 L359.5,178 L358.6,180 L357.7,182 L356.8,184 L355.9,186 L355.0,188 L354.1,190 L353.2,192 L352.4,194 L351.5,196 L350.6,198 L349.7,200 L348.8,202 L347.9,204 L347.1,206 L346.2,208 L345.3,210 L344.4,212 L343.6,214 L342.7,216 L341.8,218 L340.9,220 L340.1,222 L339.2,224 L338.4,226 L337.5,228 L336.6,230 L335.8,232 L334.9,234 L334.1,236 L333.2,238 L332.4,240 L331.5,242 L330.7,244 L329.9,246 L329.0,248 L328.2,250 L327.3,252 L326.5,254 L325.7,256 L324.9,258 L324.0,260 L323.2,262 L322.4,264 L321.6,266 L320.7,268 L319.9,270 L319.1,272 L318.3,274 L317.5,276 L316.7,278 L315.9,280 L315.1,282 L314.3,284 L313.5,286" stroke="#9400d3"/>
</g>
<g clip-path="url(#cpd)" fill="none" stroke-width="3.0" stroke-linejoin="round" stroke-linecap="round">
<path d="M621.8,4 L618.4,6 L615.1,8 L611.9,10 L608.9,12 L606.0,14 L603.1,16 L600.4,18 L597.8,20 L595.3,22 L592.9,24 L590.6,26 L588.4,28 L586.2,30 L584.2,32 L582.2,34 L580.3,36 L578.5,38 L576.8,40 L575.1,42 L573.5,44 L571.9,46 L570.4,48 L569.0,50 L567.6,52 L566.2,54 L564.9,56 L563.7,58 L562.4,60 L561.2,62 L560.1,64 L558.9,66 L557.8,68 L556.7,70 L555.6,72 L554.6,74 L553.5,76 L552.4,78 L551.4,80 L550.3,82 L549.3,84 L548.2,86 L547.1,88 L546.0,90 L544.9,92 L543.8,94 L542.6,96 L541.4,98 L540.2,100 L539.0,102 L537.7,104 L536.5,106 L535.2,108 L534.0,110 L532.7,112 L531.5,114 L530.2,116 L529.0,118 L527.8,120 L526.7,122 L525.6,124 L524.5,126 L523.4,128 L522.3,130 L521.3,132 L520.3,134 L519.3,136 L518.4,138 L517.4,140 L516.5,142 L515.6,144 L514.7,146 L513.8,148 L512.9,150 L512.0,152 L511.1,154 L510.2,156 L509.3,158 L508.4,160 L507.6,162 L506.7,164 L505.8,166 L504.8,168 L503.9,170 L503.0,172 L502.0,174 L501.1,176 L500.1,178 L499.1,180 L498.1,182 L497.2,184 L496.2,186 L495.1,188 L494.1,190 L493.1,192 L492.1,194 L491.1,196 L490.1,198 L489.0,200 L488.0,202 L487.0,204 L486.0,206 L485.0,208 L483.9,210 L482.9,212 L481.9,214 L480.9,216 L480.0,218 L479.0,220 L478.0,222 L477.0,224 L476.1,226 L475.1,228 L474.2,230 L473.3,232 L472.4,234 L471.5,236 L470.6,238 L469.7,240 L468.8,242 L467.9,244 L467.0,246 L466.2,248 L465.3,250 L464.4,252 L463.5,254 L462.7,256 L461.8,258 L460.9,260 L460.0,262 L459.1,264 L458.2,266 L457.3,268 L456.4,270 L455.5,272 L454.5,274 L453.6,276 L452.6,278 L451.7,280 L450.7,282 L449.7,284 L448.7,286" stroke="#ff0000"/>
<path d="M619.0,4 L615.9,6 L612.8,8 L609.9,10 L607.0,12 L604.3,14 L601.6,16 L599.1,18 L596.6,20 L594.3,22 L592.0,24 L589.8,26 L587.7,28 L585.7,30 L583.7,32 L581.9,34 L580.0,36 L578.3,38 L576.6,40 L575.0,42 L573.4,44 L571.9,46 L570.5,48 L569.1,50 L567.7,52 L566.4,54 L565.1,56 L563.9,58 L562.7,60 L561.5,62 L560.3,64 L559.2,66 L558.1,68 L557.0,70 L555.9,72 L554.8,74 L553.8,76 L552.7,78 L551.7,80 L550.6,82 L549.6,84 L548.5,86 L547.4,88 L546.3,90 L545.2,92 L544.1,94 L543.0,96 L541.8,98 L540.6,100 L539.4,102 L538.2,104 L537.0,106 L535.7,108 L534.5,110 L533.3,112 L532.1,114 L530.9,116 L529.7,118 L528.5,120 L527.4,122 L526.3,124 L525.2,126 L524.1,128 L523.1,130 L522.1,132 L521.0,134 L520.1,136 L519.1,138 L518.1,140 L517.2,142 L516.3,144 L515.3,146 L514.4,148 L513.5,150 L512.6,152 L511.7,154 L510.8,156 L509.9,158 L509.0,160 L508.1,162 L507.2,164 L506.2,166 L505.3,168 L504.4,170 L503.4,172 L502.5,174 L501.5,176 L500.5,178 L499.6,180 L498.6,182 L497.6,184 L496.6,186 L495.6,188 L494.6,190 L493.5,192 L492.5,194 L491.5,196 L490.5,198 L489.5,200 L488.5,202 L487.5,204 L486.4,206 L485.4,208 L484.4,210 L483.4,212 L482.4,214 L481.4,216 L480.4,218 L479.4,220 L478.5,222 L477.5,224 L476.5,226 L475.6,228 L474.7,230 L473.7,232 L472.8,234 L471.9,236 L471.0,238 L470.1,240 L469.2,242 L468.3,244 L467.4,246 L466.5,248 L465.6,250 L464.7,252 L463.8,254 L463.0,256 L462.1,258 L461.2,260 L460.3,262 L459.4,264 L458.5,266 L457.6,268 L456.6,270 L455.7,272 L454.8,274 L453.9,276 L452.9,278 L452.0,280 L451.0,282 L450.0,284 L449.0,286" stroke="#ff7f00"/>
<path d="M616.3,4 L613.3,6 L610.5,8 L607.8,10 L605.1,12 L602.6,14 L600.1,16 L597.7,18 L595.5,20 L593.2,22 L591.1,24 L589.0,26 L587.1,28 L585.1,30 L583.3,32 L581.5,34 L579.8,36 L578.1,38 L576.5,40 L574.9,42 L573.4,44 L572.0,46 L570.6,48 L569.2,50 L567.9,52 L566.6,54 L565.3,56 L564.1,58 L562.9,60 L561.7,62 L560.6,64 L559.4,66 L558.3,68 L557.3,70 L556.2,72 L555.1,74 L554.0,76 L553.0,78 L551.9,80 L550.9,82 L549.8,84 L548.8,86 L547.7,88 L546.6,90 L545.5,92 L544.4,94 L543.3,96 L542.2,98 L541.0,100 L539.8,102 L538.7,104 L537.5,106 L536.3,108 L535.1,110 L533.9,112 L532.7,114 L531.5,116 L530.4,118 L529.2,120 L528.1,122 L527.0,124 L525.9,126 L524.9,128 L523.8,130 L522.8,132 L521.8,134 L520.8,136 L519.8,138 L518.8,140 L517.9,142 L516.9,144 L516.0,146 L515.1,148 L514.1,150 L513.2,152 L512.3,154 L511.4,156 L510.4,158 L509.5,160 L508.6,162 L507.7,164 L506.7,166 L505.8,168 L504.8,170 L503.9,172 L502.9,174 L501.9,176 L501.0,178 L500.0,180 L499.0,182 L498.0,184 L497.0,186 L496.0,188 L495.0,190 L494.0,192 L493.0,194 L492.0,196 L490.9,198 L489.9,200 L488.9,202 L487.9,204 L486.9,206 L485.9,208 L484.9,210 L483.9,212 L482.9,214 L481.9,216 L480.9,218 L479.9,220 L478.9,222 L478.0,224 L477.0,226 L476.1,228 L475.1,230 L474.2,232 L473.2,234 L472.3,236 L471.4,238 L470.5,240 L469.6,242 L468.7,244 L467.8,246 L466.9,248 L466.0,250 L465.1,252 L464.2,254 L463.3,256 L462.4,258 L461.5,260 L460.5,262 L459.6,264 L458.7,266 L457.8,268 L456.9,270 L456.0,272 L455.1,274 L454.1,276 L453.2,278 L452.2,280 L451.3,282 L450.3,284 L449.3,286" stroke="#e8d400"/>
<path d="M613.5,4 L610.8,6 L608.2,8 L605.7,10 L603.3,12 L600.9,14 L598.6,16 L596.4,18 L594.3,20 L592.2,22 L590.2,24 L588.3,26 L586.4,28 L584.6,30 L582.8,32 L581.1,34 L579.5,36 L577.9,38 L576.4,40 L574.9,42 L573.4,44 L572.0,46 L570.6,48 L569.3,50 L568.0,52 L566.7,54 L565.5,56 L564.3,58 L563.1,60 L562.0,62 L560.8,64 L559.7,66 L558.6,68 L557.5,70 L556.4,72 L555.4,74 L554.3,76 L553.3,78 L552.2,80 L551.2,82 L550.1,84 L549.1,86 L548.0,88 L546.9,90 L545.9,92 L544.8,94 L543.7,96 L542.5,98 L541.4,100 L540.3,102 L539.1,104 L537.9,106 L536.8,108 L535.6,110 L534.5,112 L533.3,114 L532.2,116 L531.0,118 L529.9,120 L528.8,122 L527.7,124 L526.6,126 L525.6,128 L524.5,130 L523.5,132 L522.5,134 L521.5,136 L520.5,138 L519.5,140 L518.6,142 L517.6,144 L516.6,146 L515.7,148 L514.7,150 L513.8,152 L512.9,154 L511.9,156 L511.0,158 L510.0,160 L509.1,162 L508.2,164 L507.2,166 L506.2,168 L505.3,170 L504.3,172 L503.3,174 L502.4,176 L501.4,178 L500.4,180 L499.4,182 L498.4,184 L497.4,186 L496.4,188 L495.4,190 L494.4,192 L493.4,194 L492.4,196 L491.4,198 L490.4,200 L489.4,202 L488.4,204 L487.4,206 L486.3,208 L485.3,210 L484.3,212 L483.4,214 L482.4,216 L481.4,218 L480.4,220 L479.4,222 L478.4,224 L477.5,226 L476.5,228 L475.6,230 L474.6,232 L473.7,234 L472.7,236 L471.8,238 L470.9,240 L470.0,242 L469.0,244 L468.1,246 L467.2,248 L466.3,250 L465.4,252 L464.5,254 L463.6,256 L462.6,258 L461.7,260 L460.8,262 L459.9,264 L459.0,266 L458.1,268 L457.2,270 L456.2,272 L455.3,274 L454.4,276 L453.4,278 L452.5,280 L451.6,282 L450.6,284 L449.7,286" stroke="#00d000"/>
<path d="M605.7,4 L603.8,6 L601.9,8 L600.0,10 L598.2,12 L596.4,14 L594.6,16 L593.0,18 L591.3,20 L589.7,22 L588.1,24 L586.5,26 L585.0,28 L583.5,30 L582.1,32 L580.6,34 L579.2,36 L577.9,38 L576.5,40 L575.2,42 L573.9,44 L572.7,46 L571.4,48 L570.2,50 L569.0,52 L567.8,54 L566.7,56 L565.5,58 L564.4,60 L563.2,62 L562.1,64 L561.0,66 L560.0,68 L558.9,70 L557.8,72 L556.8,74 L555.7,76 L554.7,78 L553.6,80 L552.6,82 L551.5,84 L550.5,86 L549.5,88 L548.4,90 L547.4,92 L546.3,94 L545.3,96 L544.2,98 L543.2,100 L542.1,102 L541.0,104 L539.9,106 L538.7,108 L537.4,110 L536.2,112 L534.9,114 L533.6,116 L532.3,118 L531.1,120 L529.8,122 L528.5,124 L527.4,126 L526.3,128 L525.3,130 L524.3,132 L523.2,134 L522.2,136 L521.2,138 L520.2,140 L519.3,142 L518.3,144 L517.3,146 L516.3,148 L515.4,150 L514.4,152 L513.4,154 L512.5,156 L511.5,158 L510.6,160 L509.6,162 L508.6,164 L507.7,166 L506.7,168 L505.7,170 L504.8,172 L503.8,174 L502.8,176 L501.8,178 L500.8,180 L499.8,182 L498.8,184 L497.8,186 L496.8,188 L495.8,190 L494.8,192 L493.8,194 L492.8,196 L491.8,198 L490.8,200 L489.8,202 L488.8,204 L487.8,206 L486.8,208 L485.8,210 L484.8,212 L483.8,214 L482.8,216 L481.9,218 L480.9,220 L479.9,222 L478.9,224 L477.9,226 L477.0,228 L476.0,230 L475.1,232 L474.1,234 L473.2,236 L472.2,238 L471.3,240 L470.3,242 L469.4,244 L468.5,246 L467.6,248 L466.6,250 L465.7,252 L464.8,254 L463.9,256 L462.9,258 L462.0,260 L461.1,262 L460.2,264 L459.3,266 L458.3,268 L457.4,270 L456.5,272 L455.6,274 L454.6,276 L453.7,278 L452.8,280 L451.9,282 L450.9,284 L450.0,286" stroke="#00c8c8"/>
<path d="M607.9,4 L605.7,6 L603.6,8 L601.5,10 L599.5,12 L597.5,14 L595.6,16 L593.7,18 L591.9,20 L590.1,22 L588.4,24 L586.7,26 L585.1,28 L583.5,30 L582.0,32 L580.4,34 L579.0,36 L577.5,38 L576.1,40 L574.7,42 L573.4,44 L572.1,46 L570.8,48 L569.5,50 L568.3,52 L567.1,54 L565.9,56 L564.7,58 L563.6,60 L562.5,62 L561.3,64 L560.2,66 L559.1,68 L558.1,70 L557.0,72 L555.9,74 L554.9,76 L553.8,78 L552.8,80 L551.7,82 L550.7,84 L549.7,86 L548.6,88 L547.6,90 L546.5,92 L545.4,94 L544.4,96 L543.3,98 L542.2,100 L541.1,102 L540.0,104 L538.9,106 L537.8,108 L536.7,110 L535.6,112 L534.5,114 L533.4,116 L532.3,118 L531.3,120 L530.2,122 L529.1,124 L528.1,126 L527.1,128 L526.0,130 L525.0,132 L524.0,134 L523.0,136 L522.0,138 L520.9,140 L519.9,142 L519.0,144 L518.0,146 L517.0,148 L516.0,150 L515.0,152 L514.0,154 L513.1,156 L512.1,158 L511.1,160 L510.1,162 L509.1,164 L508.2,166 L507.2,168 L506.2,170 L505.2,172 L504.2,174 L503.2,176 L502.2,178 L501.2,180 L500.2,182 L499.2,184 L498.3,186 L497.3,188 L496.3,190 L495.3,192 L494.3,194 L493.3,196 L492.3,198 L491.3,200 L490.3,202 L489.3,204 L488.3,206 L487.3,208 L486.3,210 L485.3,212 L484.3,214 L483.3,216 L482.3,218 L481.3,220 L480.4,222 L479.4,224 L478.4,226 L477.4,228 L476.5,230 L475.5,232 L474.6,234 L473.6,236 L472.6,238 L471.7,240 L470.7,242 L469.8,244 L468.8,246 L467.9,248 L467.0,250 L466.0,252 L465.1,254 L464.2,256 L463.2,258 L462.3,260 L461.4,262 L460.4,264 L459.5,266 L458.6,268 L457.7,270 L456.7,272 L455.8,274 L454.9,276 L454.0,278 L453.1,280 L452.1,282 L451.2,284 L450.3,286" stroke="#0000ff"/>
<path d="M605.2,4 L603.2,6 L601.3,8 L599.4,10 L597.6,12 L595.8,14 L594.1,16 L592.4,18 L590.7,20 L589.1,22 L587.5,24 L586.0,26 L584.5,28 L583.0,30 L581.5,32 L580.1,34 L578.7,36 L577.3,38 L576.0,40 L574.7,42 L573.4,44 L572.1,46 L570.9,48 L569.7,50 L568.5,52 L567.3,54 L566.1,56 L565.0,58 L563.8,60 L562.7,62 L561.6,64 L560.5,66 L559.4,68 L558.3,70 L557.3,72 L556.2,74 L555.2,76 L554.1,78 L553.1,80 L552.0,82 L551.0,84 L550.0,86 L548.9,88 L547.9,90 L546.8,92 L545.8,94 L544.7,96 L543.7,98 L542.6,100 L541.5,102 L540.5,104 L539.4,106 L538.3,108 L537.3,110 L536.2,112 L535.1,114 L534.1,116 L533.0,118 L532.0,120 L530.9,122 L529.9,124 L528.8,126 L527.8,128 L526.8,130 L525.7,132 L524.7,134 L523.7,136 L522.7,138 L521.7,140 L520.6,142 L519.6,144 L518.6,146 L517.6,148 L516.6,150 L515.6,152 L514.6,154 L513.6,156 L512.6,158 L511.6,160 L510.6,162 L509.6,164 L508.6,166 L507.6,168 L506.7,170 L505.7,172 L504.7,174 L503.7,176 L502.7,178 L501.7,180 L500.7,182 L499.7,184 L498.7,186 L497.7,188 L496.7,190 L495.7,192 L494.7,194 L493.7,196 L492.7,198 L491.7,200 L490.7,202 L489.7,204 L488.7,206 L487.7,208 L486.7,210 L485.8,212 L484.8,214 L483.8,216 L482.8,218 L481.8,220 L480.8,222 L479.9,224 L478.9,226 L477.9,228 L476.9,230 L476.0,232 L475.0,234 L474.0,236 L473.1,238 L472.1,240 L471.1,242 L470.2,244 L469.2,246 L468.3,248 L467.3,250 L466.3,252 L465.4,254 L464.5,256 L463.5,258 L462.6,260 L461.6,262 L460.7,264 L459.8,266 L458.8,268 L457.9,270 L457.0,272 L456.1,274 L455.2,276 L454.2,278 L453.3,280 L452.4,282 L451.5,284 L450.6,286" stroke="#9400d3"/>
</g>
<g clip-path="url(#cpe)" fill="none" stroke-width="3.0" stroke-linejoin="round" stroke-linecap="round">
<path d="M722.1,4 L721.6,6 L721.0,8 L720.4,10 L719.8,12 L719.3,14 L718.7,16 L718.0,18 L717.4,20 L716.8,22 L716.1,24 L715.5,26 L714.8,28 L714.1,30 L713.5,32 L712.8,34 L712.1,36 L711.3,38 L710.6,40 L709.9,42 L709.1,44 L708.4,46 L707.6,48 L706.8,50 L706.0,52 L705.2,54 L704.4,56 L703.6,58 L702.8,60 L701.9,62 L701.1,64 L700.2,66 L699.4,68 L698.5,70 L697.6,72 L696.7,74 L695.8,76 L694.9,78 L693.9,80 L693.0,82 L692.0,84 L691.1,86 L690.1,88 L689.1,90 L688.1,92 L687.1,94 L686.1,96 L685.1,98 L684.1,100 L683.0,102 L682.0,104 L680.9,106 L679.8,108 L678.8,110 L677.7,112 L676.6,114 L675.5,116 L674.4,118 L673.2,120 L672.1,122 L670.9,124 L669.8,126 L668.6,128 L667.4,130 L666.3,132 L665.1,134 L663.9,136 L662.6,138 L661.4,140 L660.2,142 L659.0,144 L657.8,146 L656.5,148 L655.3,150 L654.0,152 L652.8,154 L651.6,156 L650.3,158 L649.1,160 L647.9,162 L646.7,164 L645.5,166 L644.3,168 L643.1,170 L641.9,172 L640.7,174 L639.5,176 L638.4,178 L637.2,180 L636.1,182 L635.0,184 L633.9,186 L632.8,188 L631.8,190 L630.7,192 L629.7,194 L628.6,196 L627.6,198 L626.6,200 L625.6,202 L624.6,204 L623.6,206 L622.7,208 L621.7,210 L620.8,212 L619.8,214 L618.9,216 L618.0,218 L617.1,220 L616.2,222 L615.3,224 L614.4,226 L613.5,228 L612.7,230 L611.8,232 L611.0,234 L610.1,236 L609.3,238 L608.5,240 L607.6,242 L606.8,244 L606.0,246 L605.2,248 L604.4,250 L603.6,252 L602.8,254 L602.0,256 L601.3,258 L600.5,260 L599.7,262 L599.0,264 L598.2,266 L597.4,268 L596.7,270 L595.9,272 L595.2,274 L594.4,276 L593.7,278 L592.9,280 L592.2,282 L591.4,284 L590.7,286" stroke="#ff0000"/>
<path d="M723.2,4 L722.6,6 L722.1,8 L721.5,10 L720.9,12 L720.3,14 L719.6,16 L719.0,18 L718.4,20 L717.7,22 L717.0,24 L716.4,26 L715.7,28 L715.0,30 L714.3,32 L713.6,34 L712.8,36 L712.1,38 L711.4,40 L710.6,42 L709.8,44 L709.1,46 L708.3,48 L707.5,50 L706.7,52 L705.9,54 L705.0,56 L704.2,58 L703.4,60 L702.5,62 L701.6,64 L700.8,66 L699.9,68 L699.0,70 L698.1,72 L697.2,74 L696.3,76 L695.3,78 L694.4,80 L693.4,82 L692.5,84 L691.5,86 L690.5,88 L689.5,90 L688.5,92 L687.5,94 L686.5,96 L685.5,98 L684.5,100 L683.4,102 L682.4,104 L681.3,106 L680.3,108 L679.2,110 L678.1,112 L677.0,114 L675.9,116 L674.8,118 L673.7,120 L672.5,122 L671.4,124 L670.3,126 L669.1,128 L668.0,130 L666.8,132 L665.6,134 L664.4,136 L663.2,138 L662.0,140 L660.8,142 L659.6,144 L658.4,146 L657.2,148 L656.0,150 L654.8,152 L653.6,154 L652.4,156 L651.2,158 L650.0,160 L648.8,162 L647.6,164 L646.4,166 L645.2,168 L644.0,170 L642.9,172 L641.7,174 L640.5,176 L639.4,178 L638.3,180 L637.2,182 L636.1,184 L635.0,186 L633.9,188 L632.8,190 L631.8,192 L630.7,194 L629.7,196 L628.7,198 L627.6,200 L626.6,202 L625.6,204 L624.7,206 L623.7,208 L622.7,210 L621.8,212 L620.8,214 L619.9,216 L618.9,218 L618.0,220 L617.1,222 L616.2,224 L615.3,226 L614.4,228 L613.5,230 L612.6,232 L611.8,234 L610.9,236 L610.0,238 L609.2,240 L608.3,242 L607.5,244 L606.7,246 L605.8,248 L605.0,250 L604.2,252 L603.4,254 L602.6,256 L601.8,258 L601.0,260 L600.2,262 L599.4,264 L598.6,266 L597.8,268 L597.0,270 L596.2,272 L595.5,274 L594.7,276 L593.9,278 L593.1,280 L592.4,282 L591.6,284 L590.8,286" stroke="#ff7f00"/>
<path d="M724.3,4 L723.7,6 L723.1,8 L722.5,10 L721.9,12 L721.3,14 L720.6,16 L720.0,18 L719.3,20 L718.6,22 L718.0,24 L717.3,26 L716.6,28 L715.8,30 L715.1,32 L714.4,34 L713.6,36 L712.9,38 L712.1,40 L711.3,42 L710.6,44 L709.8,46 L709.0,48 L708.2,50 L707.3,52 L706.5,54 L705.7,56 L704.8,58 L703.9,60 L703.1,62 L702.2,64 L701.3,66 L700.4,68 L699.5,70 L698.6,72 L697.7,74 L696.7,76 L695.8,78 L694.8,80 L693.9,82 L692.9,84 L691.9,86 L690.9,88 L690.0,90 L689.0,92 L687.9,94 L686.9,96 L685.9,98 L684.9,100 L683.8,102 L682.8,104 L681.7,106 L680.7,108 L679.6,110 L678.5,112 L677.4,114 L676.3,116 L675.2,118 L674.1,120 L673.0,122 L671.9,124 L670.7,126 L669.6,128 L668.5,130 L667.3,132 L666.2,134 L665.0,136 L663.8,138 L662.7,140 L661.5,142 L660.3,144 L659.1,146 L657.9,148 L656.7,150 L655.6,152 L654.4,154 L653.2,156 L652.0,158 L650.8,160 L649.6,162 L648.5,164 L647.3,166 L646.1,168 L645.0,170 L643.8,172 L642.7,174 L641.6,176 L640.4,178 L639.3,180 L638.2,182 L637.1,184 L636.0,186 L635.0,188 L633.9,190 L632.8,192 L631.8,194 L630.7,196 L629.7,198 L628.7,200 L627.7,202 L626.7,204 L625.7,206 L624.7,208 L623.7,210 L622.8,212 L621.8,214 L620.8,216 L619.9,218 L618.9,220 L618.0,222 L617.1,224 L616.2,226 L615.3,228 L614.3,230 L613.4,232 L612.5,234 L611.7,236 L610.8,238 L609.9,240 L609.0,242 L608.2,244 L607.3,246 L606.5,248 L605.6,250 L604.8,252 L603.9,254 L603.1,256 L602.2,258 L601.4,260 L600.6,262 L599.8,264 L599.0,266 L598.1,268 L597.3,270 L596.5,272 L595.7,274 L594.9,276 L594.1,278 L593.3,280 L592.5,282 L591.8,284 L591.0,286" stroke="#e8d400"/>
<path d="M725.4,4 L724.8,6 L724.2,8 L723.6,10 L722.9,12 L722.3,14 L721.6,16 L720.9,18 L720.3,20 L719.6,22 L718.9,24 L718.1,26 L717.4,28 L716.7,30 L715.9,32 L715.2,34 L714.4,36 L713.7,38 L712.9,40 L712.1,42 L711.3,44 L710.5,46 L709.6,48 L708.8,50 L708.0,52 L707.1,54 L706.3,56 L705.4,58 L704.5,60 L703.6,62 L702.7,64 L701.8,66 L700.9,68 L700.0,70 L699.1,72 L698.1,74 L697.2,76 L696.2,78 L695.3,80 L694.3,82 L693.3,84 L692.4,86 L691.4,88 L690.4,90 L689.4,92 L688.4,94 L687.3,96 L686.3,98 L685.3,100 L684.2,102 L683.2,104 L682.1,106 L681.1,108 L680.0,110 L678.9,112 L677.8,114 L676.8,116 L675.7,118 L674.6,120 L673.5,122 L672.3,124 L671.2,126 L670.1,128 L669.0,130 L667.8,132 L666.7,134 L665.6,136 L664.4,138 L663.3,140 L662.1,142 L660.9,144 L659.8,146 L658.6,148 L657.5,150 L656.3,152 L655.1,154 L654.0,156 L652.8,158 L651.7,160 L650.5,162 L649.4,164 L648.2,166 L647.1,168 L645.9,170 L644.8,172 L643.7,174 L642.6,176 L641.4,178 L640.3,180 L639.3,182 L638.2,184 L637.1,186 L636.0,188 L635.0,190 L633.9,192 L632.8,194 L631.8,196 L630.8,198 L629.8,200 L628.7,202 L627.7,204 L626.7,206 L625.7,208 L624.7,210 L623.7,212 L622.8,214 L621.8,216 L620.8,218 L619.9,220 L618.9,222 L618.0,224 L617.0,226 L616.1,228 L615.2,230 L614.3,232 L613.3,234 L612.4,236 L611.5,238 L610.6,240 L609.7,242 L608.8,244 L608.0,246 L607.1,248 L606.2,250 L605.3,252 L604.5,254 L603.6,256 L602.7,258 L601.9,260 L601.0,262 L600.2,264 L599.3,266 L598.5,268 L597.7,270 L596.8,272 L596.0,274 L595.2,276 L594.4,278 L593.5,280 L592.7,282 L591.9,284 L591.1,286" stroke="#00d000"/>
<path d="M726.5,4 L725.9,6 L725.2,8 L724.6,10 L723.9,12 L723.3,14 L722.6,16 L721.9,18 L721.2,20 L720.5,22 L719.8,24 L719.0,26 L718.3,28 L717.5,30 L716.8,32 L716.0,34 L715.2,36 L714.4,38 L713.6,40 L712.8,42 L712.0,44 L711.2,46 L710.3,48 L709.5,50 L708.6,52 L707.8,54 L706.9,56 L706.0,58 L705.1,60 L704.2,62 L703.3,64 L702.4,66 L701.5,68 L700.5,70 L699.6,72 L698.6,74 L697.7,76 L696.7,78 L695.7,80 L694.8,82 L693.8,84 L692.8,86 L691.8,88 L690.8,90 L689.8,92 L688.8,94 L687.7,96 L686.7,98 L685.7,100 L684.6,102 L683.6,104 L682.5,106 L681.5,108 L680.4,110 L679.3,112 L678.3,114 L677.2,116 L676.1,118 L675.0,120 L673.9,122 L672.8,124 L671.7,126 L670.6,128 L669.5,130 L668.4,132 L667.3,134 L666.1,136 L665.0,138 L663.9,140 L662.7,142 L661.6,144 L660.5,146 L659.3,148 L658.2,150 L657.1,152 L655.9,154 L654.8,156 L653.7,158 L652.5,160 L651.4,162 L650.3,164 L649.1,166 L648.0,168 L646.9,170 L645.8,172 L644.7,174 L643.6,176 L642.5,178 L641.4,180 L640.3,182 L639.2,184 L638.1,186 L637.1,188 L636.0,190 L635.0,192 L633.9,194 L632.9,196 L631.8,198 L630.8,200 L629.8,202 L628.8,204 L627.8,206 L626.7,208 L625.7,210 L624.7,212 L623.8,214 L622.8,216 L621.8,218 L620.8,220 L619.8,222 L618.9,224 L617.9,226 L617.0,228 L616.0,230 L615.1,232 L614.1,234 L613.2,236 L612.3,238 L611.3,240 L610.4,242 L609.5,244 L608.6,246 L607.7,248 L606.8,250 L605.9,252 L605.0,254 L604.1,256 L603.2,258 L602.3,260 L601.5,262 L600.6,264 L599.7,266 L598.9,268 L598.0,270 L597.1,272 L596.3,274 L595.4,276 L594.6,278 L593.7,280 L592.9,282 L592.1,284 L591.2,286" stroke="#00c8c8"/>
<path d="M727.6,4 L727.0,6 L726.3,8 L725.6,10 L725.0,12 L724.3,14 L723.6,16 L722.9,18 L722.1,20 L721.4,22 L720.7,24 L719.9,26 L719.2,28 L718.4,30 L717.6,32 L716.8,34 L716.0,36 L715.2,38 L714.4,40 L713.5,42 L712.7,44 L711.9,46 L711.0,48 L710.1,50 L709.3,52 L708.4,54 L707.5,56 L706.6,58 L705.7,60 L704.8,62 L703.8,64 L702.9,66 L702.0,68 L701.0,70 L700.1,72 L699.1,74 L698.2,76 L697.2,78 L696.2,80 L695.2,82 L694.2,84 L693.2,86 L692.2,88 L691.2,90 L690.2,92 L689.2,94 L688.1,96 L687.1,98 L686.1,100 L685.0,102 L684.0,104 L682.9,106 L681.9,108 L680.8,110 L679.8,112 L678.7,114 L677.6,116 L676.5,118 L675.5,120 L674.4,122 L673.3,124 L672.2,126 L671.1,128 L670.0,130 L668.9,132 L667.8,134 L666.7,136 L665.6,138 L664.5,140 L663.4,142 L662.3,144 L661.1,146 L660.0,148 L658.9,150 L657.8,152 L656.7,154 L655.6,156 L654.5,158 L653.4,160 L652.3,162 L651.2,164 L650.0,166 L648.9,168 L647.9,170 L646.8,172 L645.7,174 L644.6,176 L643.5,178 L642.4,180 L641.3,182 L640.3,184 L639.2,186 L638.1,188 L637.1,190 L636.0,192 L635.0,194 L633.9,196 L632.9,198 L631.9,200 L630.8,202 L629.8,204 L628.8,206 L627.8,208 L626.8,210 L625.7,212 L624.7,214 L623.7,216 L622.7,218 L621.8,220 L620.8,222 L619.8,224 L618.8,226 L617.8,228 L616.9,230 L615.9,232 L614.9,234 L614.0,236 L613.0,238 L612.1,240 L611.1,242 L610.2,244 L609.2,246 L608.3,248 L607.4,250 L606.5,252 L605.5,254 L604.6,256 L603.7,258 L602.8,260 L601.9,262 L601.0,264 L600.1,266 L599.2,268 L598.3,270 L597.4,272 L596.6,274 L595.7,276 L594.8,278 L593.9,280 L593.1,282 L592.2,284 L591.4,286" stroke="#0000ff"/>
<path d="M728.7,4 L728.0,6 L727.4,8 L726.7,10 L726.0,12 L725.3,14 L724.6,16 L723.8,18 L723.1,20 L722.3,22 L721.6,24 L720.8,26 L720.0,28 L719.2,30 L718.4,32 L717.6,34 L716.8,36 L716.0,38 L715.1,40 L714.3,42 L713.4,44 L712.6,46 L711.7,48 L710.8,50 L709.9,52 L709.0,54 L708.1,56 L707.2,58 L706.3,60 L705.3,62 L704.4,64 L703.5,66 L702.5,68 L701.5,70 L700.6,72 L699.6,74 L698.6,76 L697.6,78 L696.7,80 L695.7,82 L694.7,84 L693.7,86 L692.6,88 L691.6,90 L690.6,92 L689.6,94 L688.6,96 L687.5,98 L686.5,100 L685.4,102 L684.4,104 L683.3,106 L682.3,108 L681.2,110 L680.2,112 L679.1,114 L678.0,116 L677.0,118 L675.9,120 L674.8,122 L673.8,124 L672.7,126 L671.6,128 L670.5,130 L669.4,132 L668.3,134 L667.3,136 L666.2,138 L665.1,140 L664.0,142 L662.9,144 L661.8,146 L660.7,148 L659.7,150 L658.6,152 L657.5,154 L656.4,156 L655.3,158 L654.2,160 L653.1,162 L652.0,164 L651.0,166 L649.9,168 L648.8,170 L647.7,172 L646.7,174 L645.6,176 L644.5,178 L643.4,180 L642.4,182 L641.3,184 L640.3,186 L639.2,188 L638.1,190 L637.1,192 L636.0,194 L635.0,196 L634.0,198 L632.9,200 L631.9,202 L630.8,204 L629.8,206 L628.8,208 L627.8,210 L626.7,212 L625.7,214 L624.7,216 L623.7,218 L622.7,220 L621.7,222 L620.7,224 L619.7,226 L618.7,228 L617.7,230 L616.7,232 L615.7,234 L614.7,236 L613.8,238 L612.8,240 L611.8,242 L610.9,244 L609.9,246 L608.9,248 L608.0,250 L607.0,252 L606.1,254 L605.1,256 L604.2,258 L603.3,260 L602.3,262 L601.4,264 L600.5,266 L599.6,268 L598.7,270 L597.7,272 L596.8,274 L595.9,276 L595.0,278 L594.2,280 L593.3,282 L592.4,284 L591.5,286" stroke="#9400d3"/>
</g>
<g stroke="#9a9a9a" fill="none">
<path d="M43.7,8.1 H148.2" stroke-width="1.4" stroke="#989898"/>
<path d="M43.7,280.65 H148.2" stroke-width="1.5" stroke="#949494"/>
<path d="M44.2,8.0 V281.0" stroke-width="1" stroke="#b0b0b0"/>
<path d="M147.7,8.0 V281.0" stroke-width="1" stroke="#909090"/>
<path d="M78.9,280.5 v-4.1 M113.5,280.5 v-4.1 M44.2,76.125 h4.1 M44.2,144.25 h4.1 M44.2,212.375 h4.1 " stroke-width="0.85" stroke="#949494"/>
</g>
<g stroke="#9a9a9a" fill="none">
<path d="M176.25,8.1 H280.43" stroke-width="1.4" stroke="#989898"/>
<path d="M176.25,280.65 H280.43" stroke-width="1.5" stroke="#949494"/>
<path d="M176.75,8.0 V281.0" stroke-width="1" stroke="#959595"/>
<path d="M279.93,8.0 V281.0" stroke-width="1" stroke="#adadad"/>
<path d="M210.9,280.5 v-4.1 M210.9,8.0 v4.1 M245.3,280.5 v-4.1 M245.3,8.0 v4.1 M176.75,98.83333333333333 h4.1 M279.93,98.83333333333333 h-4.1 M176.75,189.66666666666666 h4.1 M279.93,189.66666666666666 h-4.1 " stroke-width="0.85" stroke="#949494"/>
</g>
<g stroke="#9a9a9a" fill="none">
<path d="M314.75,8.1 H418.7" stroke-width="1.4" stroke="#989898"/>
<path d="M314.75,280.65 H418.7" stroke-width="1.5" stroke="#949494"/>
<path d="M315.25,8.0 V281.0" stroke-width="1" stroke="#959595"/>
<path d="M418.2,8.0 V281.0" stroke-width="1" stroke="#838383"/>
<path d="M349.7,280.5 v-4.1 M349.7,8.0 v4.1 M384.1,280.5 v-4.1 M384.1,8.0 v4.1 M315.25,98.83333333333333 h4.1 M418.2,98.83333333333333 h-4.1 M315.25,189.66666666666666 h4.1 M418.2,189.66666666666666 h-4.1 " stroke-width="0.85" stroke="#949494"/>
</g>
<g stroke="#9a9a9a" fill="none">
<path d="M452.7,8.1 H556.7" stroke-width="1.4" stroke="#989898"/>
<path d="M452.7,280.65 H556.7" stroke-width="1.5" stroke="#949494"/>
<path d="M453.2,8.0 V281.0" stroke-width="1" stroke="#adadad"/>
<path d="M556.2,8.0 V281.0" stroke-width="1" stroke="#919191"/>
<path d="M487.8,280.5 v-4.1 M487.8,8.0 v4.1 M522.1,280.5 v-4.1 M522.1,8.0 v4.1 M453.2,98.83333333333333 h4.1 M556.2,98.83333333333333 h-4.1 M453.2,189.66666666666666 h4.1 M556.2,189.66666666666666 h-4.1 " stroke-width="0.85" stroke="#949494"/>
</g>
<g stroke="#9a9a9a" fill="none">
<path d="M590.65,8.1 H694.65" stroke-width="1.4" stroke="#989898"/>
<path d="M590.65,280.65 H694.65" stroke-width="1.5" stroke="#949494"/>
<path d="M591.15,8.0 V281.0" stroke-width="1" stroke="#a5a5a5"/>
<path d="M694.15,8.0 V281.0" stroke-width="1" stroke="#808080"/>
<path d="M625.6,280.5 v-4.1 M625.6,8.0 v4.1 M659.8,280.5 v-4.1 M659.8,8.0 v4.1 M591.15,98.83333333333333 h4.1 M694.15,98.83333333333333 h-4.1 M591.15,189.66666666666666 h4.1 M694.15,189.66666666666666 h-4.1 " stroke-width="0.85" stroke="#949494"/>
</g>
<g stroke="#000" stroke-width="0.3" stroke-linejoin="round">
<g font-size="9.8">
<text transform="translate(39.90,11.40) scale(1,1.05)" text-anchor="end">800</text>
<text transform="translate(39.90,79.53) scale(1,1.05)" text-anchor="end">600</text>
<text transform="translate(39.90,147.65) scale(1,1.05)" text-anchor="end">400</text>
<text transform="translate(39.90,215.78) scale(1,1.05)" text-anchor="end">200</text>
<text transform="translate(39.90,283.90) scale(1,1.05)" text-anchor="end">0</text>
<text transform="translate(44.20,293.30) scale(1,1.05)" text-anchor="middle">0</text>
<text transform="translate(78.90,293.30) scale(1,1.05)" text-anchor="middle">3</text>
<text transform="translate(113.60,293.30) scale(1,1.05)" text-anchor="middle">6</text>
<text transform="translate(147.60,293.30) scale(1,1.05)" text-anchor="middle">9</text>
<text transform="translate(171.70,11.40) scale(1,1.05)" text-anchor="end">90</text>
<text transform="translate(171.70,102.23) scale(1,1.05)" text-anchor="end">60</text>
<text transform="translate(171.70,193.07) scale(1,1.05)" text-anchor="end">30</text>
<text transform="translate(171.70,283.90) scale(1,1.05)" text-anchor="end">0</text>
<text transform="translate(181.50,293.30) scale(1,1.05)" text-anchor="middle" font-size="10.4">0.00</text>
<text transform="translate(211.60,293.30) scale(1,1.05)" text-anchor="middle" font-size="10.4">0.25</text>
<text transform="translate(241.00,293.30) scale(1,1.05)" text-anchor="middle" font-size="10.4">0.50</text>
<text transform="translate(273.40,293.30) scale(1,1.05)" text-anchor="middle" font-size="10.4">0.75</text>
<text transform="translate(310.30,10.85) scale(1,1.05)" text-anchor="end">180</text>
<text transform="translate(310.30,101.68) scale(1,1.05)" text-anchor="end">150</text>
<text transform="translate(310.30,192.52) scale(1,1.05)" text-anchor="end">120</text>
<text transform="translate(310.30,283.35) scale(1,1.05)" text-anchor="end">90</text>
<text transform="translate(320.40,292.40) scale(1,1.05)" text-anchor="middle" font-size="10.4">0.75</text>
<text transform="translate(350.30,292.40) scale(1,1.05)" text-anchor="middle" font-size="10.4">1.00</text>
<text transform="translate(379.80,292.40) scale(1,1.05)" text-anchor="middle" font-size="10.4">1.25</text>
<text transform="translate(412.20,292.40) scale(1,1.05)" text-anchor="middle" font-size="10.4">1.50</text>
<text transform="translate(448.80,10.80) scale(1,1.05)" text-anchor="end">255</text>
<text transform="translate(448.80,101.63) scale(1,1.05)" text-anchor="end">225</text>
<text transform="translate(448.80,192.47) scale(1,1.05)" text-anchor="end">195</text>
<text transform="translate(448.80,283.30) scale(1,1.05)" text-anchor="end">165</text>
<text transform="translate(458.80,292.50) scale(1,1.05)" text-anchor="middle" font-size="10.4">1.50</text>
<text transform="translate(487.90,292.50) scale(1,1.05)" text-anchor="middle" font-size="10.4">1.75</text>
<text transform="translate(517.00,292.50) scale(1,1.05)" text-anchor="middle" font-size="10.4">2.00</text>
<text transform="translate(549.70,292.50) scale(1,1.05)" text-anchor="middle" font-size="10.4">2.25</text>
<text transform="translate(586.90,10.85) scale(1,1.05)" text-anchor="end">325</text>
<text transform="translate(586.90,101.68) scale(1,1.05)" text-anchor="end">295</text>
<text transform="translate(586.90,192.52) scale(1,1.05)" text-anchor="end">265</text>
<text transform="translate(586.90,283.35) scale(1,1.05)" text-anchor="end">235</text>
<text transform="translate(596.60,292.50) scale(1,1.05)" text-anchor="middle" font-size="10.4">2.25</text>
<text transform="translate(626.00,292.50) scale(1,1.05)" text-anchor="middle" font-size="10.4">2.50</text>
<text transform="translate(655.30,292.50) scale(1,1.05)" text-anchor="middle" font-size="10.4">2.75</text>
<text transform="translate(687.90,292.50) scale(1,1.05)" text-anchor="middle" font-size="10.4">3.00</text>
</g>
<g font-size="10.5">
<text transform="translate(53.90,307.20) scale(1,1.05)" xml:space="preserve">Applied field  [T]</text>
<text transform="translate(185.70,307.20) scale(1,1.05)" xml:space="preserve">Applied field  [T]</text>
<text transform="translate(323.80,307.20) scale(1,1.05)" xml:space="preserve">Applied field  [T]</text>
<text transform="translate(462.60,307.20) scale(1,1.05)" xml:space="preserve">Applied field  [T]</text>
<text transform="translate(600.00,307.20) scale(1,1.05)" xml:space="preserve">Applied field  [T]</text>
<text font-size="10.65" transform="translate(13.0,237.3) rotate(-90) scale(1,1.05)" xml:space="preserve">Transverse Hall resistance, <tspan font-style="italic">V</tspan><tspan font-size="7.6" dy="2.4">hall</tspan><tspan dy="-2.4">/</tspan><tspan font-style="italic">I</tspan><tspan font-size="7.6" dy="2.4">op</tspan></text>
<text transform="translate(13.1,67.0) rotate(-90) scale(1,1.05)">[Ω]</text>
</g>
<g font-size="13.3" stroke-width="0.4">
<text transform="translate(51.70,26.10) scale(1,1.05)">(a)</text>
<text transform="translate(184.00,26.10) scale(1,1.05)">(b)</text>
<text transform="translate(322.60,26.10) scale(1,1.05)" stroke-width="0.6">(c)</text>
<text transform="translate(460.50,26.10) scale(1,1.05)">(d)</text>
<text transform="translate(598.30,26.10) scale(1,1.05)">(e)</text>
</g>
<g font-size="9.55">
<text transform="translate(53.60,47.90) scale(1,1.05)">Strong quantum</text>
<text transform="translate(53.60,59.25) scale(1,1.05)">oscillation at high</text>
<text transform="translate(53.60,70.95) scale(1,1.05)">magnetic field</text>
<text transform="translate(190.20,83.00) scale(1,1.05)">No quantum</text>
<text transform="translate(190.60,94.60) scale(1,1.05)">oscillation</text>
<text transform="translate(330.30,68.00) scale(1,1.05)">Slight quantum</text>
<text transform="translate(330.40,79.60) scale(1,1.05)">oscillation</text>
<text transform="translate(464.00,70.90) scale(1,1.05)">Visible quantum</text>
<text transform="translate(464.20,82.80) scale(1,1.05)">oscillation</text>
<text transform="translate(595.30,116.80) scale(1,1.05)">Obvious quantum</text>
<text transform="translate(595.40,128.20) scale(1,1.05)">oscillation</text>
</g>
</g>
<g stroke="#333" stroke-width="0.55" fill="none">
<path d="M357.8,86.7 L376.7,120.0" marker-end="url(#ah)"/>
<path d="M491.9,91.5 L515.5,123.2" marker-end="url(#ah)"/>
<path d="M620.0,137.0 L634.6,167.7" marker-end="url(#ah)"/>
</g>
<g font-size="9.6" stroke-width="0.35" stroke-linejoin="round">
<path d="M89.4,185.40 H109.6" stroke="#ff0000" stroke-width="2.7" stroke-linecap="round"/>
<text transform="translate(113.50,189.00) scale(1,1.05)" stroke="#000">2.2 K</text>
<path d="M89.4,197.25 H109.6" stroke="#ff7f00" stroke-width="2.7" stroke-linecap="round"/>
<text transform="translate(113.50,200.85) scale(1,1.05)" stroke="#000">3.2 K</text>
<path d="M89.4,209.10 H109.6" stroke="#e8d400" stroke-width="2.7" stroke-linecap="round"/>
<text transform="translate(113.50,212.70) scale(1,1.05)" stroke="#000">4.5 K</text>
<path d="M89.4,220.95 H109.6" stroke="#00d000" stroke-width="2.7" stroke-linecap="round"/>
<text transform="translate(113.50,224.55) scale(1,1.05)" stroke="#000">6.4 K</text>
<path d="M89.4,232.80 H109.6" stroke="#00c8c8" stroke-width="2.7" stroke-linecap="round"/>
<text transform="translate(113.50,236.40) scale(1,1.05)" stroke="#000">9.1 K</text>
<path d="M89.4,244.65 H109.6" stroke="#0000ff" stroke-width="2.7" stroke-linecap="round"/>
<text transform="translate(113.50,248.25) scale(1,1.05)" stroke="#000">12.9 K</text>
<path d="M89.4,256.50 H109.6" stroke="#9400d3" stroke-width="2.7" stroke-linecap="round"/>
<text transform="translate(113.50,260.10) scale(1,1.05)" stroke="#000">18.3 K</text>
</g>
</svg>
</body>
</html>
